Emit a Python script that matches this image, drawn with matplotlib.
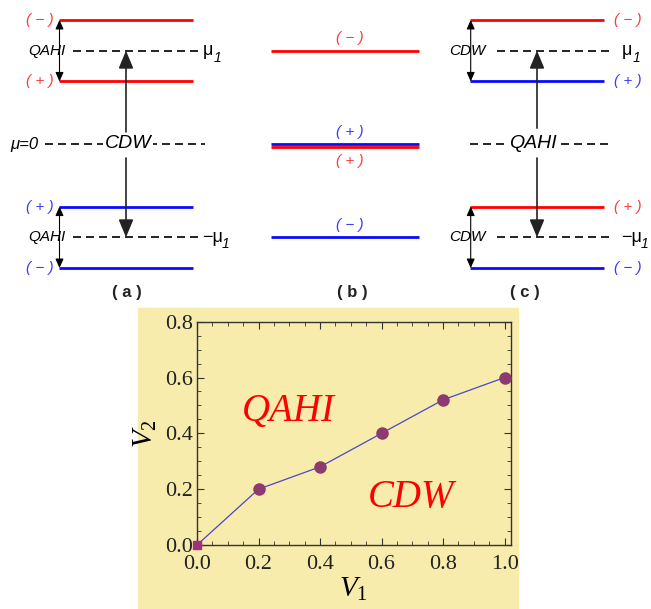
import matplotlib.pyplot as plt
from matplotlib.patches import Rectangle

plt.rcParams['font.family'] = ['Liberation Sans', 'DejaVu Sans']
plt.rcParams['mathtext.fontset'] = 'custom'
plt.rcParams['mathtext.rm'] = 'Liberation Serif'
plt.rcParams['mathtext.it'] = 'Liberation Serif:italic'

# level energies (units of mu_1)
mu1 = 1.0
a_red = [1.33, 0.67]
a_blue = [-0.67, -1.33]
b_red = [1.0, -0.027]
b_blue = [0.0, -1.0]
c_red = [1.33, -0.67]
c_blue = [0.67, -1.33]
a_signs = ['( − )', '( + )', '( + )', '( − )']
b_signs = ['( − )', '( + )', '( + )', '( − )']
c_signs = ['( − )', '( + )', '( + )', '( − )']
panel_labels = ['( a )', '( b )', '( c )']

# phase boundary
V1 = [0.0, 0.2, 0.4, 0.6, 0.8, 1.0]
V2 = [0.0, 0.2, 0.28, 0.4, 0.52, 0.6]

RED = '#ff0000'
BLUE = '#0a0aff'
RED_T = '#ff3a3a'
BLUE_T = '#3a3aff'

fig = plt.figure(figsize=(6.51, 6.09), dpi=100)

# ---------------- top: level schemes ----------------
ax = fig.add_axes([0, 1 - 300 / 609, 1, 300 / 609])
ax.set_xlim(0, 651)
ax.set_ylim((144 - 300) / 93.3, 144 / 93.3)
ax.axis('off')

dash = (0, (4.8, 3))
sty = dict(fontsize=11, style='italic', va='center')


def level(x0, x1, e, c):
    ax.plot([x0, x1], [e, e], color=c, lw=2.0, solid_capstyle='butt')


def dashed(x0, x1, e):
    ax.plot([x0, x1], [e, e], color='black', lw=1.2, ls=dash)


def big_arrow(x, e0, e1):
    ax.annotate('', xy=(x, e1), xytext=(x, e0),
                arrowprops=dict(arrowstyle='-|>,head_length=0.6,head_width=0.25',
                                mutation_scale=18, lw=1.2,
                                color='#222222', shrinkA=0, shrinkB=0))


def small_arrow(x, e0, e1):
    ax.annotate('', xy=(x, e1), xytext=(x, e0),
                arrowprops=dict(arrowstyle='<|-|>,head_length=0.5,head_width=0.22',
                                mutation_scale=11, lw=0.8,
                                color='black', shrinkA=0, shrinkB=0))


def mu_label(x, e, neg=False):
    t = '−μ' if neg else 'μ'
    ax.text(x, e, t, fontsize=13, va='center', ha='left')
    ax.annotate('1', xy=(x, e), xytext=(8 if not neg else 14, -5),
                textcoords='offset points', fontsize=10, style='italic',
                va='center', ha='left')


# (a)
for e in a_red:
    level(59, 193, e, RED)
for e in a_blue:
    level(59, 193, e, BLUE)
dashed(73, 199, mu1)
dashed(73, 199, -mu1)
dashed(45, 205, 0)
ax.text(10, 0, 'μ=0', fontsize=12, style='italic', va='center', ha='left')
ax.text(128, 0, 'CDW', fontsize=14, style='italic', va='center', ha='center',
        bbox=dict(fc='white', ec='none', pad=1))
big_arrow(126, 0.13, mu1)
big_arrow(126, -0.15, -mu1)
small_arrow(59.5, a_red[0], a_red[1])
small_arrow(59.5, a_blue[0], a_blue[1])
ax.text(47, mu1, 'QAHI', ha='center', **sty)
ax.text(47, -mu1, 'QAHI', ha='center', **sty)
mu_label(203, mu1)
mu_label(202, -mu1, neg=True)
for e, s, c in zip(a_red + a_blue, a_signs, [RED_T, RED_T, BLUE_T, BLUE_T]):
    ax.text(40, e, s, color=c, fontsize=11, style='italic', ha='center', va='center')

# (b)
for e in b_red:
    level(271, 419, e, RED)
for e in b_blue:
    level(271, 419, e, BLUE)
for e, s, c in zip([1.136, 0.132, -0.179, -0.868], b_signs,
                   [RED_T, BLUE_T, RED_T, BLUE_T]):
    ax.text(350, e, s, color=c, fontsize=11, style='italic', ha='center', va='center')

# (c)
for e in c_red:
    level(470, 604, e, RED)
for e in c_blue:
    level(470, 604, e, BLUE)
dashed(497, 613, mu1)
dashed(497, 613, -mu1)
dashed(470, 612, 0)
ax.text(533, 0, 'QAHI', fontsize=14, style='italic', va='center', ha='center',
        bbox=dict(fc='white', ec='none', pad=1))
big_arrow(537, 0.17, mu1)
big_arrow(537, -0.15, -mu1)
small_arrow(470.7, c_red[0], c_blue[0])
small_arrow(470.7, c_red[1], c_blue[1])
ax.text(467, mu1, 'CDW', ha='center', **sty)
ax.text(467, -mu1, 'CDW', ha='center', **sty)
mu_label(622, mu1)
mu_label(621, -mu1, neg=True)
for e, s, c in zip([c_red[0], c_blue[0], c_red[1], c_blue[1]], c_signs,
                   [RED_T, BLUE_T, RED_T, BLUE_T]):
    ax.text(628, e, s, color=c, fontsize=11, style='italic', ha='center', va='center')

for x, s in zip([127, 352, 525], panel_labels):
    ax.text(x, (144 - 292) / 93.3, s, fontsize=12, fontweight='bold',
            ha='center', va='center', color='#222222')

# ---------------- bottom: phase diagram ----------------
YEL = '#f8ecad'
fig.patches.append(Rectangle((138 / 651, 0), (518 - 138) / 651, (609 - 308) / 609,
                             transform=fig.transFigure, color=YEL, zorder=-10))

bx = fig.add_axes([197 / 651, 1 - 545 / 609, (510.7 - 197) / 651, (545 - 321.7) / 609])
bx.set_facecolor(YEL)
bx.plot(V1, V2, color='#4848c8', lw=0.9, zorder=2)
bx.plot(V1[1:], V2[1:], 'o', color='#8c3a70', ms=8, zorder=3)
bx.plot(V1[:1], V2[:1], 's', color='#a0307f', ms=6, zorder=3, clip_on=False)
bx.set_xlim(0, 1.02)
bx.set_ylim(0, 0.8)
bx.set_xticks([0, 0.2, 0.4, 0.6, 0.8, 1.0])
bx.set_yticks([0, 0.2, 0.4, 0.6, 0.8])
bx.set_xticks([i * 0.05 for i in range(21)], minor=True)
bx.set_yticks([i * 0.05 for i in range(17)], minor=True)
bx.set_xticklabels(['0.0', '0.2', '0.4', '0.6', '0.8', '1.0'])
bx.set_yticklabels(['0.0', '0.2', '0.4', '0.6', '0.8'])
bx.tick_params(which='both', direction='in', top=True, right=True, colors='#333333',
               labelcolor='#222222', labelsize=16, labelfontfamily='Liberation Serif')
bx.tick_params(which='major', length=5, width=0.8)
bx.tick_params(which='minor', length=3, width=0.6)
bx.tick_params(axis='x', which='major', pad=7)
bx.tick_params(axis='y', which='major', pad=3)
for s in bx.spines.values():
    s.set_color('#333333')
    s.set_linewidth(1.0)
bx.set_xlabel(r'$V_1$', fontsize=21, labelpad=1)
bx.set_ylabel(r'$V_2$', fontsize=21, labelpad=4)
bx.text(0.296, 0.48, 'QAHI', color='red', fontsize=28, style='italic',
        family='Liberation Serif', ha='center', va='center')
bx.text(0.697, 0.17, 'CDW', color='red', fontsize=28, style='italic',
        family='Liberation Serif', ha='center', va='center')

fig.savefig('out.png', dpi=100)
